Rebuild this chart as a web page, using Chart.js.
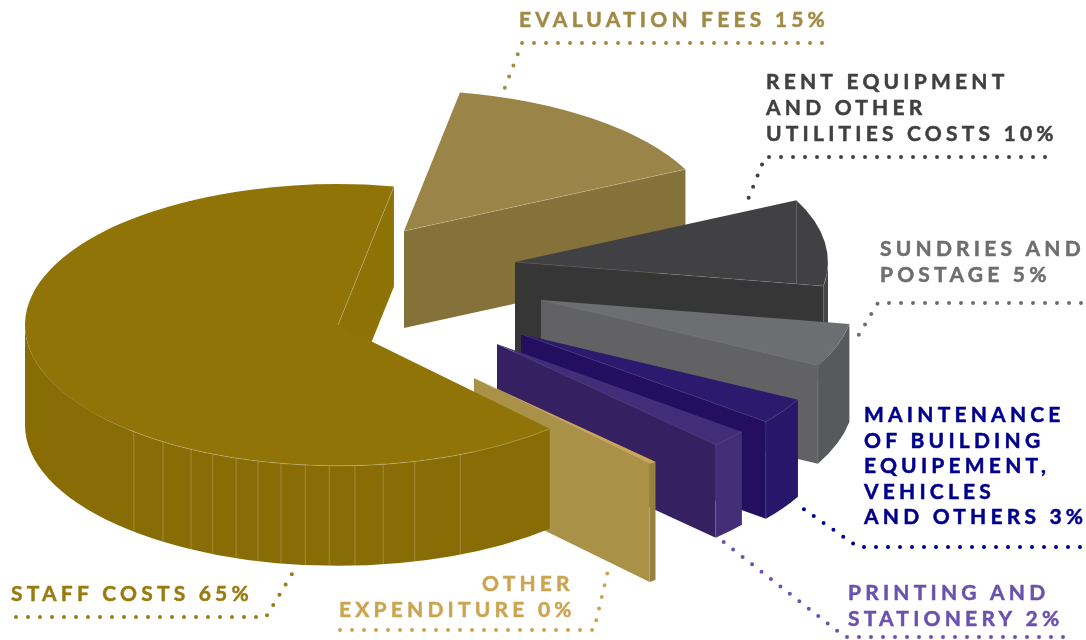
<!DOCTYPE html>
<html>
<head>
<meta charset="utf-8">
<title>Expenditure breakdown</title>
<script src="https://cdn.jsdelivr.net/npm/chart.js@4"></script>
<style>
  html, body { margin: 0; background: #fff; }
  canvas { display: block; }
</style>
</head>
<body>
<canvas id="canvas" width="1086" height="640"></canvas>
<script>
// data, clockwise from the evaluation slice
const categories = ["Evaluation fees", "Rent equipment and other utilities costs", "Sundries and postage",
  "Maintenance of building equipement, vehicles and others", "Printing and stationery", "Other expenditure", "Staff costs"];
const shares = [15, 10, 5, 3, 2, 0.49, 65];

// label text, the percentage is added to the last line of each
const labelLines = [
  ["EVALUATION FEES"],
  ["RENT EQUIPMENT", "AND OTHER", "UTILITIES COSTS"],
  ["SUNDRIES AND", "POSTAGE"],
  ["MAINTENANCE", "OF BUILDING", "EQUIPEMENT,", "VEHICLES", "AND OTHERS"],
  ["PRINTING AND", "STATIONERY"],
  ["OTHER", "EXPENDITURE"],
  ["STAFF COSTS"],
];

// colours
const topColors = ["#9a8447", "#414042", "#6d6e71", "#2b1a6e", "#442d78", "#cba552", "#907407"];
const wallColors = ["#85713a", "#363636", "#626264", "#230e60", "#352062", "#aa9148", "#8d7206"];
const rimColors = ["#85713a", "#454546", "#58595b", "#27176a", "#452e78", "#95803e", "#886c05"];
const textColors = ["#a08a45", "#404041", "#6d6e71", "#00008b", "#6b52ae", "#cba552", "#9a7b12"];

// 3d look: squash of the circle, shift of each slice, slice height and size
const tilt = 0.45;
const sliceShift = [[66, -94], [177, -63], [203, -25], [183, 9], [159, 19], [136, 53], [0, 0]];
const sliceHeight = [97, 97, 98, 97, 93, 118, 100];
const sliceScale = [1, 1, 1, 1, 1, 0.83, 1];
const rentIndex = 1;
const staffIndex = 6;
// facets on the front of the big slice, degrees
const seamAngles = [67, 75.8, 81.7, 86.9, 91.6, 96, 100.5, 104.8, 109, 113.6, 118, 124, 130.7];

// where the text and the dotted leaders go
const labelPos = [
  { x: 519, y: [27] },
  { x: 766, y: [89, 115, 141] },
  { x: 880, y: [256, 282] },
  { x: 864, y: [422, 448, 473, 499, 524] },
  { x: 848, y: [600, 626] },
  { x: [482, 339], y: [591, 617] },
  { x: 11, y: [601] },
];
// each leader starts at the far end of its flat run
const leaders = [
  [[822, 43], [522, 43], [504, 90]],
  [[1045, 157], [765, 157], [745, 207]],
  [[1081, 303], [878, 303], [855, 341]],
  [[1080, 547], [858, 547], [798, 505]],
  [[1063, 637], [845, 637], [721, 540]],
  [[340, 630], [594, 630], [610, 562]],
  [[16, 617], [266, 617], [295, 569]],
];

function drawWalls(ctx, arc, i) {
  const k = sliceScale[i];
  const r = arc.outerRadius * k;
  const cx = arc.x + sliceShift[i][0];
  const cy = arc.y + sliceShift[i][1];
  const h = sliceHeight[i];
  const end = arc.endAngle;

  // cut side of the slice
  if (Math.cos(end) > 0) {
    const ex = cx + r * Math.cos(end);
    const ey = cy + r * tilt * Math.sin(end);
    ctx.fillStyle = wallColors[i];
    ctx.beginPath();
    ctx.moveTo(cx, cy);
    ctx.lineTo(ex, ey);
    ctx.lineTo(ex, ey + h);
    ctx.lineTo(cx, cy + h);
    ctx.closePath();
    ctx.fill();
  }

  // rounded side, only the part facing front
  for (let n = -1; n <= 1; n++) {
    const a0 = Math.max(arc.startAngle, n * 2 * Math.PI);
    const a1 = Math.min(end, n * 2 * Math.PI + Math.PI);
    if (a1 <= a0) continue;
    ctx.fillStyle = rimColors[i];
    ctx.beginPath();
    ctx.ellipse(cx, cy, r, r * tilt, 0, a0, a1);
    ctx.ellipse(cx, cy + h, r, r * tilt, 0, a1, a0, true);
    ctx.closePath();
    ctx.fill();
  }
}

function drawTop(ctx, arc, i) {
  const k = sliceScale[i];
  ctx.save();
  ctx.translate(arc.x + sliceShift[i][0], arc.y + sliceShift[i][1]);
  ctx.scale(k, tilt * k);
  ctx.translate(-arc.x, -arc.y);
  arc.draw(ctx);
  ctx.restore();
}

// thin light lines along the front edges and down the corner
function drawEdges(ctx, arc, i) {
  const r = arc.outerRadius * sliceScale[i];
  const cx = arc.x + sliceShift[i][0];
  const cy = arc.y + sliceShift[i][1];
  const end = arc.endAngle;
  const ex = cx + r * Math.cos(end);
  const ey = cy + r * tilt * Math.sin(end);
  const bigSlice = i === staffIndex;
  ctx.strokeStyle = i === 0 || bigSlice ? "rgba(235, 225, 190, 0.4)" : "rgba(235, 235, 235, 0.16)";
  ctx.lineWidth = 0.7;
  ctx.beginPath();
  ctx.moveTo(cx, cy);
  ctx.lineTo(ex, ey);
  if (!bigSlice && i > rentIndex) ctx.lineTo(ex, ey + sliceHeight[i]);
  ctx.stroke();
  const a1 = Math.min(end, 2.3);
  if (arc.startAngle < a1 && arc.startAngle > -0.5) {
    ctx.beginPath();
    ctx.ellipse(cx, cy, r, r * tilt, 0, arc.startAngle, a1);
    ctx.stroke();
  }
  // the rent slice has a crease at its back corner
  if (i === rentIndex) {
    const sx = cx + r * Math.cos(arc.startAngle);
    const sy = cy + r * tilt * Math.sin(arc.startAngle);
    ctx.strokeStyle = "rgba(235, 235, 235, 0.3)";
    ctx.beginPath();
    ctx.moveTo(sx, sy);
    ctx.lineTo(sx, cy + (sx - cx) * Math.tan(end) * tilt);
    ctx.stroke();
  }
}

function drawSeams(ctx, arc, i) {
  const r = arc.outerRadius;
  ctx.strokeStyle = "rgba(215, 195, 140, 0.55)";
  ctx.lineWidth = 0.7;
  seamAngles.forEach((deg) => {
    const a = (deg * Math.PI) / 180;
    const x = arc.x + r * Math.cos(a);
    const y = arc.y + r * tilt * Math.sin(a);
    ctx.beginPath();
    ctx.moveTo(x, y);
    ctx.lineTo(x, y + sliceHeight[i]);
    ctx.stroke();
  });
}

function drawLabels(ctx) {
  ctx.textBaseline = "alphabetic";
  ctx.textAlign = "left";
  ctx.font = "bold 21px Lato";
  ctx.letterSpacing = "4.2px";
  ctx.lineWidth = 0.5;
  ctx.lineJoin = "round";
  labelLines.forEach((lines, i) => {
    ctx.fillStyle = textColors[i];
    ctx.strokeStyle = textColors[i];
    lines.forEach((line, j) => {
      let text = line;
      if (j === lines.length - 1) text += " " + Math.round(shares[i]) + "%";
      const x = Array.isArray(labelPos[i].x) ? labelPos[i].x[j] : labelPos[i].x;
      ctx.fillText(text, x, labelPos[i].y[j]);
      // Lato bold is a little light at this size
      ctx.strokeText(text, x, labelPos[i].y[j]);
    });
  });
  ctx.letterSpacing = "0px";

  leaders.forEach((pts, i) => {
    ctx.strokeStyle = textColors[i];
    ctx.lineWidth = 4;
    ctx.lineCap = "round";
    ctx.setLineDash([0, 12]);
    ctx.beginPath();
    ctx.moveTo(pts[0][0], pts[0][1]);
    pts.slice(1).forEach((p) => ctx.lineTo(p[0], p[1]));
    ctx.stroke();
    ctx.setLineDash([]);
  });
}

// replaces the flat pie with extruded slices
const extrudePlugin = {
  id: "extrude",
  beforeDatasetsDraw(chart) {
    const ctx = chart.ctx;
    const arcs = chart.getDatasetMeta(0).data;
    ctx.save();
    arcs.forEach((arc, i) => {
      drawWalls(ctx, arc, i);
      if (i === staffIndex) drawSeams(ctx, arc, i);
      drawTop(ctx, arc, i);
      drawEdges(ctx, arc, i);
    });
    ctx.restore();
    return false;
  },
  afterDraw(chart) {
    drawLabels(chart.ctx);
  },
};

const ctx = document.getElementById("canvas").getContext("2d");
new Chart(ctx, {
  type: "pie",
  data: {
    labels: categories,
    datasets: [
      {
        data: shares,
        backgroundColor: topColors,
        borderWidth: 0,
        radius: 313,
      },
    ],
  },
  options: {
    responsive: false,
    animation: false,
    rotation: 10.3,
    layout: { padding: { right: 410, top: 10 } },
    plugins: {
      legend: { display: false },
      tooltip: { enabled: false },
    },
  },
  plugins: [extrudePlugin],
});
</script>
</body>
</html>
